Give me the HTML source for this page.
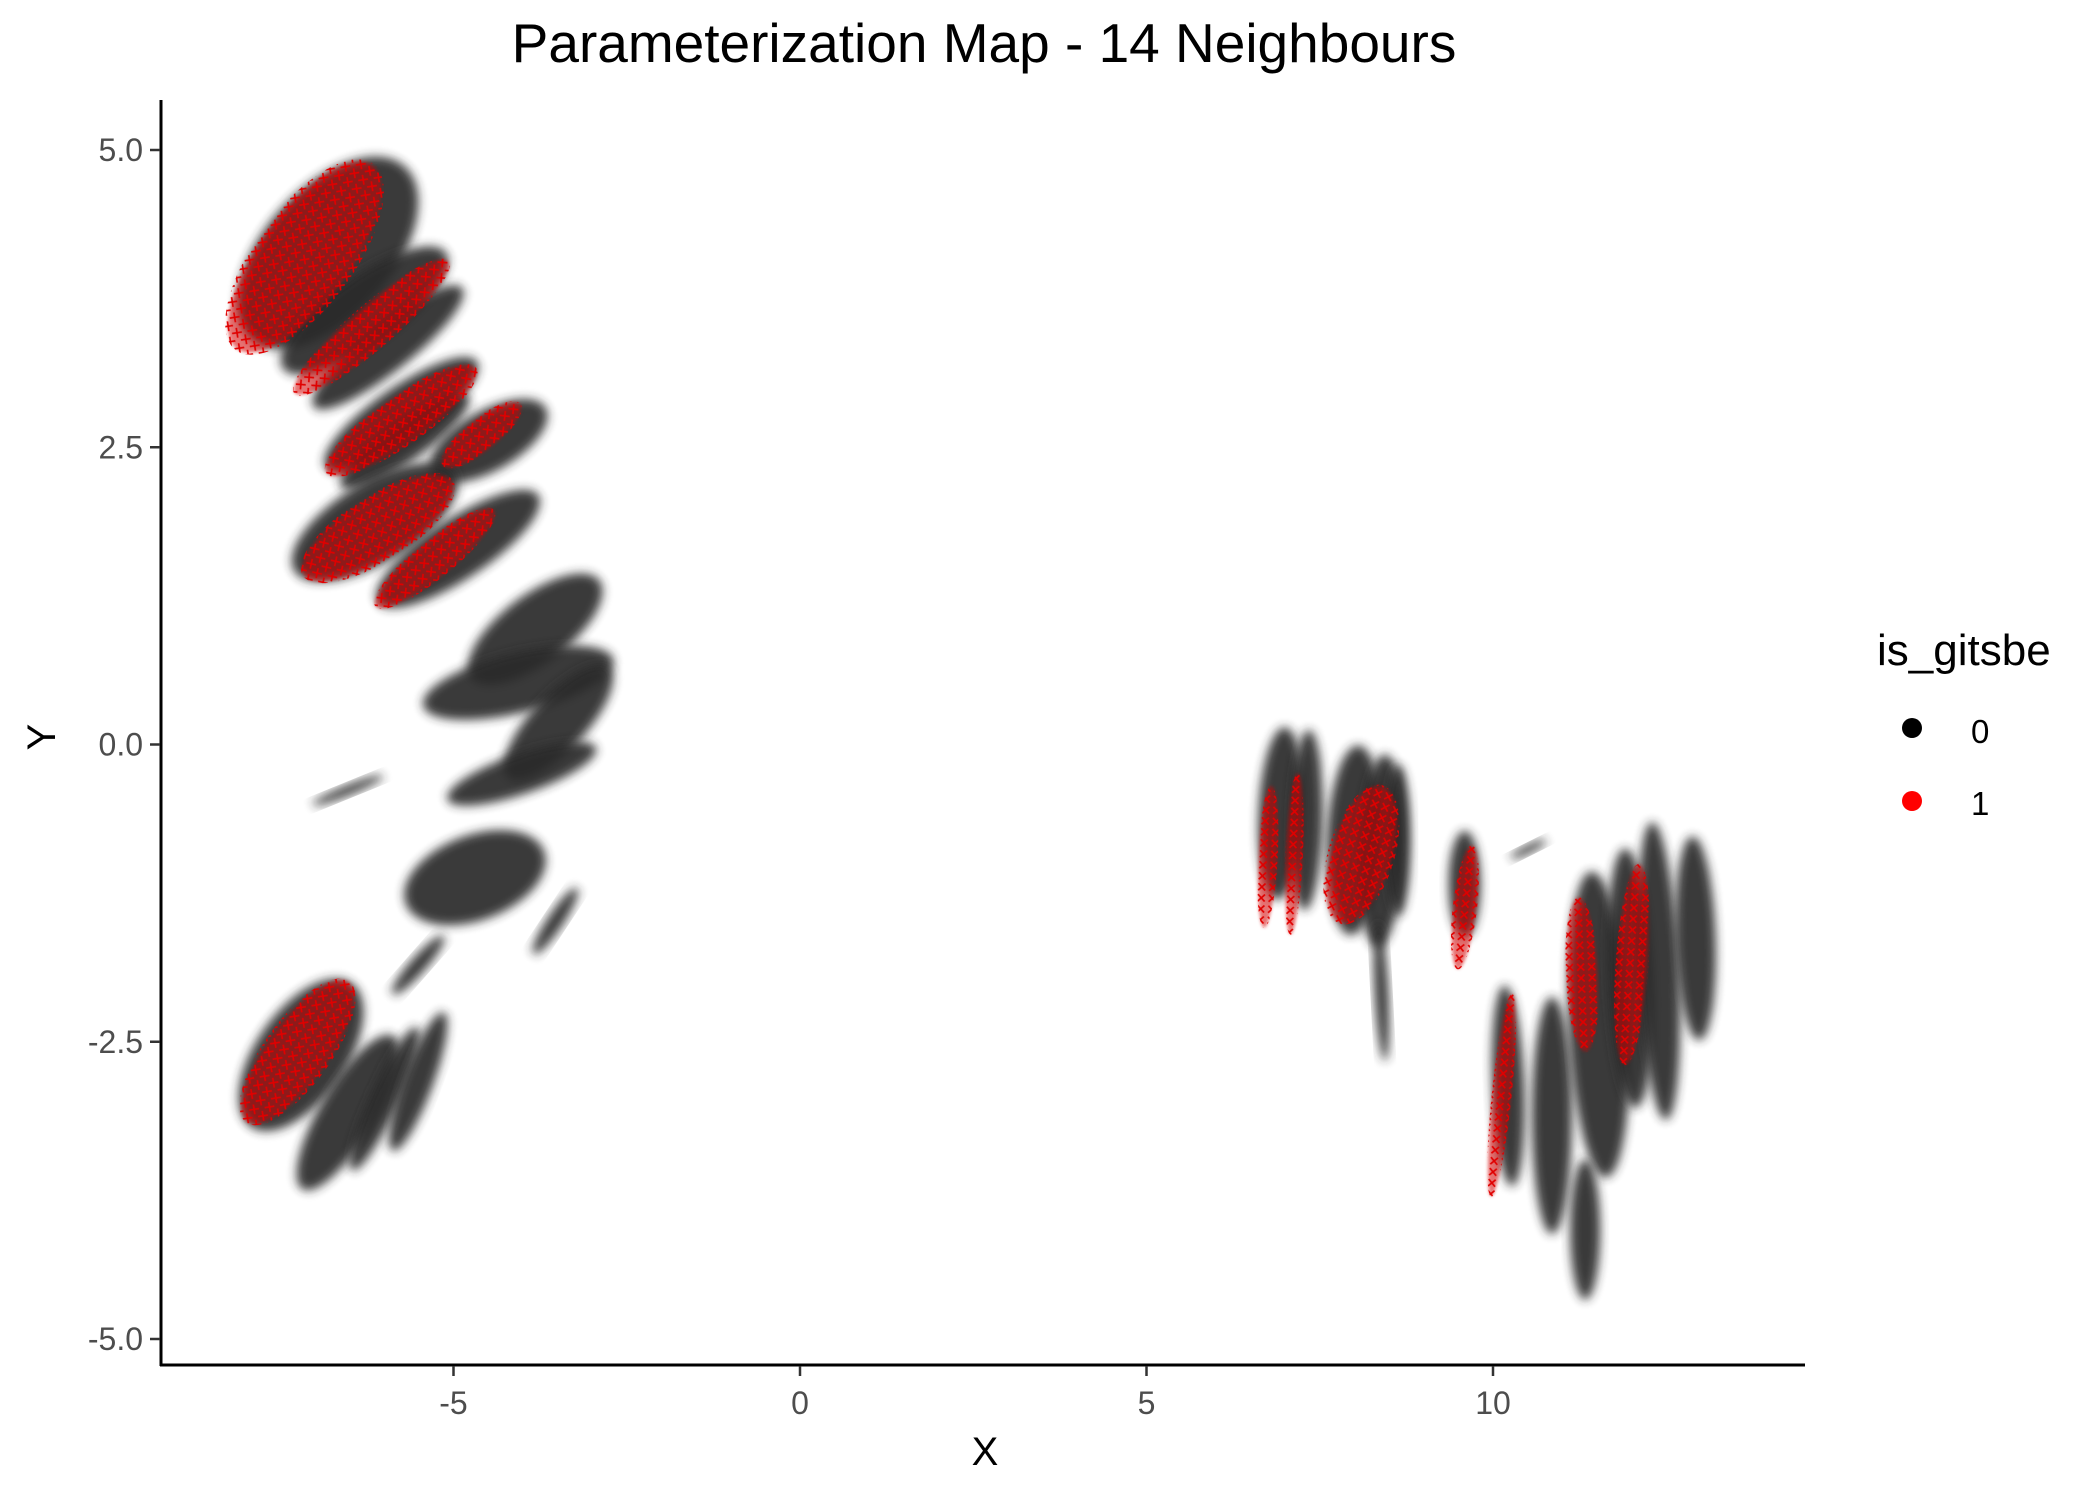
<!DOCTYPE html>
<html><head><meta charset="utf-8"><style>
html,body{margin:0;padding:0;background:#fff}
svg{display:block}
text{font-family:"Liberation Sans",sans-serif}
</style></head><body>
<svg id="chart" width="2100" height="1500" viewBox="0 0 2100 1500" xmlns="http://www.w3.org/2000/svg">
<defs>
<filter id="fuzz" x="-30%" y="-30%" width="160%" height="160%"><feGaussianBlur stdDeviation="5"/></filter>
<filter id="fuzz2" x="-30%" y="-30%" width="160%" height="160%"><feGaussianBlur stdDeviation="1.5"/></filter>
<pattern id="xpat" width="11" height="11" patternUnits="userSpaceOnUse">
<path d="M2,2 L9,9 M9,2 L2,9" stroke="#e00000" stroke-width="1.6"/>
</pattern>
</defs>
<text x="984" y="62" font-size="55" text-anchor="middle">Parameterization Map - 14 Neighbours</text>
<g id="marks"></g>
<g id="axes"></g>
<text x="985" y="1465" font-size="40" text-anchor="middle">X</text>
<text x="0" y="0" font-size="40" text-anchor="middle" transform="translate(55,737) rotate(-90)">Y</text>
<g>
<text x="1877" y="665" font-size="44">is_gitsbe</text>
<circle cx="1912" cy="728" r="10" fill="#000"/>
<text x="1971" y="743" font-size="33">0</text>
<circle cx="1912" cy="801" r="10" fill="#ff0000"/>
<text x="1971" y="815" font-size="33">1</text>
</g>
</svg>
<script>
// Streaks of is_gitsbe = 0 points (start x,y -> end x,y in data units)
const blackX1 = [-7.68,-7.30,-6.91,-6.72,-6.53,-5.17,-7.10,-5.95,-4.59,-5.27,-4.11,-4.98,-5.46,-3.82,-7.01,-7.78,-7.10,-6.43,-5.85,-5.85,
 6.89,7.28,7.95,8.34,8.63,8.44, 9.59,10.27,10.85,11.62,12.05,12.49,12.97,11.33,10.27];
const blackY1 = [3.57,3.23,2.89,2.38,2.21,2.33,1.53,1.25,0.63,0.35,-0.21,-0.44,-1.29,-1.74,-0.50,-3.09,-3.66,-3.54,-3.37,-2.08,
 -1.23,-1.34,-1.51,-1.63,-1.40,-2.64, -1.57,-3.66,-4.05,-3.54,-2.98,-3.09,-2.42,-4.62,-0.95];
const blackX2 = [-5.95,-5.27,-4.98,-4.79,-4.88,-3.82,-5.17,-3.92,-3.05,-2.86,-2.86,-3.05,-3.92,-3.24,-6.04,-6.62,-5.95,-5.56,-5.17,-5.17,
 6.99,7.34,8.05,8.44,8.63,8.34, 9.59,10.17,10.85,11.43,11.91,12.30,12.88,11.33,10.75];
const blackY2 = [4.70,4.07,3.79,3.17,2.89,2.78,2.21,2.04,1.31,0.69,0.58,-0.05,-0.95,-1.23,-0.27,-2.13,-2.53,-2.42,-2.30,-1.63,
 0.07,0.07,-0.10,-0.16,-0.21,-1.51, -0.78,-2.08,-2.19,-1.17,-0.95,-0.72,-0.84,-3.54,-0.81];
const blackW = [128,68,47,54,40,60,80,60,68,60,55,40,85,16,10,90,55,28,30,16, 45,32,55,45,25,14, 32,32,40,60,45,40,40,30,8];
// Regions of is_gitsbe = 1 points
const redX1 = [-7.97,-7.20,-6.72,-5.08,-7.01,-6.04,-7.88, 6.70,7.08,7.85,9.50,9.98,11.33,11.91];
const redY1 = [3.45,3.00,2.33,2.38,1.48,1.20,-3.09, -1.51,-1.57,-1.40,-1.85,-3.77,-2.53,-2.64];
const redX2 = [-6.33,-5.17,-4.79,-4.11,-5.17,-4.50,-6.62, 6.80,7.18,8.35,9.69,10.27,11.24,12.10];
const redY2 = [4.75,4.02,3.12,2.83,2.16,1.93,-2.08, -0.38,-0.27,-0.45,-0.89,-2.13,-1.34,-1.06];
const redW = [90,40,45,30,60,35,60, 18,16,60,22,18,30,30];
const xTicks = [-5,0,5,10];
const xTickLabels = ["-5","0","5","10"];
const yTicks = [-5,-2.5,0,2.5,5];
const yTickLabels = ["-5.0","-2.5","0.0","2.5","5.0"];

const NS = "http://www.w3.org/2000/svg";
function sx(v){ return 800 + v*69.3; }
function sy(v){ return 744.5 - v*118.9; }
const marks = document.getElementById('marks');
const axes = document.getElementById('axes');
function mk(tag, attrs, parent){
  const e = document.createElementNS(NS, tag);
  for (const k in attrs) e.setAttribute(k, attrs[k]);
  parent.appendChild(e); return e;
}
function streak(x1,y1,x2,y2,w,fill,parent,filter,op){
  const px1=sx(x1), py1=sy(y1), px2=sx(x2), py2=sy(y2);
  const cx=(px1+px2)/2, cy=(py1+py2)/2;
  const len=Math.hypot(px2-px1,py2-py1)+w*0.4;
  const ang=Math.atan2(py2-py1,px2-px1)*180/Math.PI;
  const e = mk('ellipse',{cx:cx,cy:cy,rx:len/2,ry:w/2,fill:fill,opacity:op,transform:'rotate('+ang+' '+cx+' '+cy+')'},parent);
  if(filter) e.setAttribute('filter',filter);
  return e;
}
for (let i=0;i<blackX1.length;i++){
  const e = streak(blackX1[i],blackY1[i],blackX2[i],blackY2[i],blackW[i],'#2b2b2b',marks,'url(#fuzz)',0.92);
  
  
}
for (let i=0;i<redX1.length;i++){
  const a = streak(redX1[i],redY1[i],redX2[i],redY2[i],redW[i],'#d40000',marks,'url(#fuzz2)',0.55);
  
  
  const b = streak(redX1[i],redY1[i],redX2[i],redY2[i],redW[i]*1.1,'url(#xpat)',marks,null,1);
  
  
}
// axes
const yl = mk('line',{x1:161,y1:100,x2:161,y2:1366,stroke:'#000','stroke-width':3},axes);


const xl = mk('line',{x1:160,y1:1365,x2:1805,y2:1365,stroke:'#000','stroke-width':3},axes);


xTicks.forEach((v,i)=>{
  const t = mk('line',{x1:sx(v),y1:1366,x2:sx(v),y2:1376,stroke:'#333','stroke-width':2.5},axes);
  
  
  const l = mk('text',{x:sx(v),y:1414,'font-size':32,'text-anchor':'middle',fill:'#4d4d4d'},axes);
  l.textContent = xTickLabels[i];
  
  
});
yTicks.forEach((v,i)=>{
  const t = mk('line',{x1:150,y1:sy(v),x2:160,y2:sy(v),stroke:'#333','stroke-width':2.5},axes);
  
  
  const l = mk('text',{x:143,y:sy(v)+11,'font-size':32,'text-anchor':'end',fill:'#4d4d4d'},axes);
  l.textContent = yTickLabels[i];
  
  
});
</script>
</body></html>
